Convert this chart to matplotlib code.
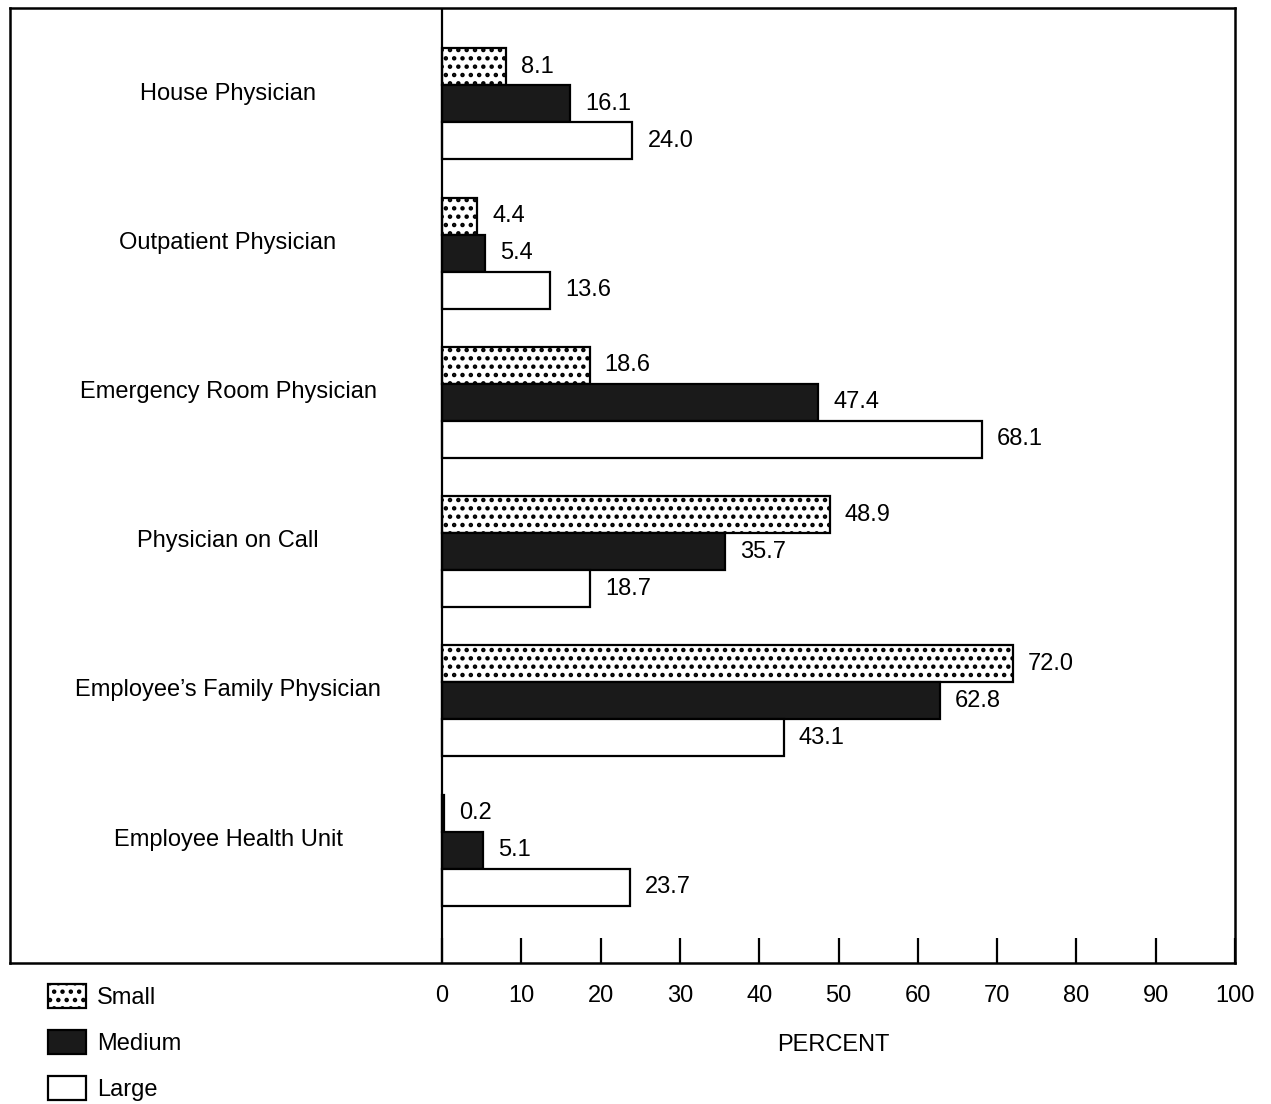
import numpy as np
import matplotlib.pyplot as plt
from matplotlib.patches import Patch

plt.rcParams['font.family'] = ['Liberation Sans', 'DejaVu Sans']
plt.rcParams['hatch.linewidth'] = 2.0

# categories, top to bottom
categories = ["House Physician", "Outpatient Physician", "Emergency Room Physician",
              "Physician on Call", "Employee\u2019s Family Physician", "Employee Health Unit"]
series = ["Small", "Medium", "Large"]
small = [8.1, 4.4, 18.6, 48.9, 72.0, 0.2]
medium = [16.1, 5.4, 47.4, 35.7, 62.8, 5.1]
large = [24.0, 13.6, 68.1, 18.7, 43.1, 23.7]
x_ticks = [0, 10, 20, 30, 40, 50, 60, 70, 80, 90, 100]

W, H = 1271, 1104
FS = 17
fig = plt.figure(figsize=(W / 100, H / 100), dpi=100)
ax = fig.add_axes([10 / W, (H - 963) / H, 1225 / W, 955 / H])

y = np.arange(len(categories))
bh = 0.248
styles = [
    dict(facecolor='white', edgecolor='black', hatch='..'),
    dict(facecolor='#1a1a1a', edgecolor='black'),
    dict(facecolor='white', edgecolor='black'),
]
for k, (vals, st) in enumerate(zip([small, medium, large], styles)):
    pos = y + (k - 1) * bh
    ax.barh(pos, vals, height=bh, linewidth=1.6, **st)
    for p, v in zip(pos, vals):
        ax.text(v + 1.9, p, f"{v:.1f}", va='center', ha='left', fontsize=FS)

for yi, name in zip(y, categories):
    ax.text(-27.0, yi - 0.07, name, ha='center', va='center', fontsize=FS)

ax.set_xlim(-54.5, 100)
ax.set_ylim(len(categories) - 1 + 0.757, -0.643)
ax.axvline(0, color='black', linewidth=1.6)
for s in ax.spines.values():
    s.set_linewidth(1.8)

ax.set_xticks(x_ticks)
ax.set_xticklabels([str(t) for t in x_ticks], fontsize=FS)
ax.tick_params(axis='x', direction='in', length=18, width=1.6, pad=16)
ax.set_yticks([])
ax.set_xlabel("PERCENT", fontsize=FS)
ax.xaxis.set_label_coords((833 - 10) / 1225, -(1034 - 963) / 955)

handles = [Patch(label=s, linewidth=1.6, **st) for s, st in zip(series, styles)]
fig.legend(handles=handles, loc='upper left', bbox_to_anchor=(27 / W, 1 - 963 / H),
           frameon=False, fontsize=FS, handlelength=1.6, handleheight=1.15,
           labelspacing=0.9, handletextpad=0.45)

fig.savefig("out.png", dpi=100)
